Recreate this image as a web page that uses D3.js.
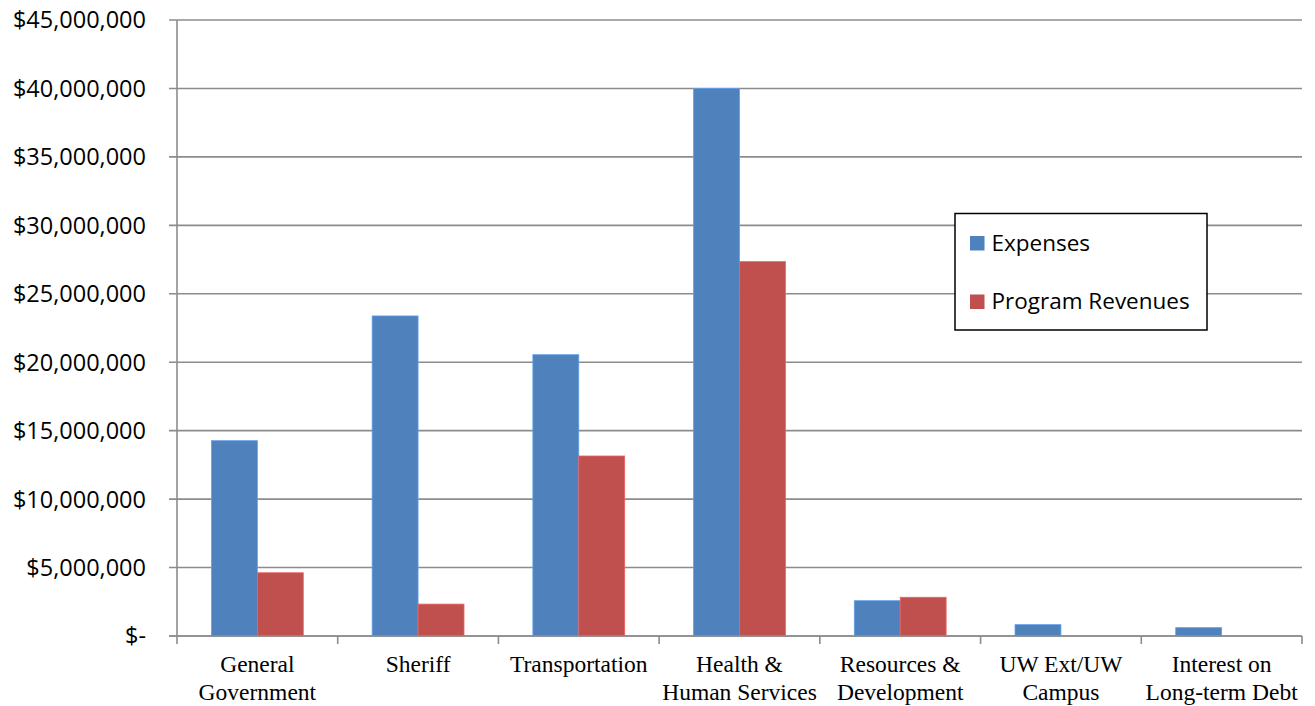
<!DOCTYPE html>
<html>
<head>
<meta charset="utf-8">
<script src="https://cdn.jsdelivr.net/npm/d3@7"></script>
<style>
  body { margin: 0; background: #fff; }
  svg { display: block; }
</style>
</head>
<body>
<svg id="chart"></svg>
<script>
// categories, each label split into its lines
const categories = [
  ['General', 'Government'],
  ['Sheriff'],
  ['Transportation'],
  ['Health &', 'Human Services'],
  ['Resources &', 'Development'],
  ['UW Ext/UW', 'Campus'],
  ['Interest on', 'Long-term Debt']
];

const seriesNames = ['Expenses', 'Program Revenues'];
const seriesColors = ['#4F81BD', '#C0504D'];

const expenses = [14270000, 23380000, 20550000, 40000000, 2580000, 830000, 610000];
const programRevenues = [4620000, 2330000, 13150000, 27350000, 2830000, 0, 0];

const yTicks = [0, 5000000, 10000000, 15000000, 20000000, 25000000, 30000000, 35000000, 40000000, 45000000];

const config = {
  w: 1315,
  h: 706,
  left: 177,
  right: 1302,
  top: 20,
  bottom: 636
};

function createVisualization({w, h, left, right, top, bottom}) {
  const keys = categories.map(c => c.join(' '));
  const values = [expenses, programRevenues];

  const svg = d3.select('#chart')
    .attr('width', w)
    .attr('height', h);

  const x = d3.scaleBand()
    .domain(keys)
    .range([left, right])
    .padding(0);

  // excel style gap width 150%
  const xInner = d3.scaleBand()
    .domain(seriesNames)
    .range([0, x.bandwidth()])
    .paddingInner(0)
    .paddingOuter(0.75);

  const y = d3.scaleLinear()
    .domain([0, 45000000])
    .range([bottom, top]);

  const grey = '#8c8c8c';

  // gridlines
  svg.append('g')
    .selectAll('line')
    .data(yTicks)
    .join('line')
    .attr('x1', left - 8)
    .attr('x2', right)
    .attr('y1', d => y(d))
    .attr('y2', d => y(d))
    .style('stroke', grey)
    .style('stroke-width', 1.6);

  // y labels
  const fmt = d3.format(',');
  svg.append('g')
    .style('font', '23.5px "Open Sans", "Liberation Sans", sans-serif')
    .style('fill', '#000')
    .selectAll('text')
    .data(yTicks)
    .join('text')
    .attr('x', 146)
    .attr('y', d => y(d))
    .attr('dy', '0.36em')
    .attr('text-anchor', 'end')
    .text(d => d === 0 ? '$-' : '$' + fmt(d));

  // bars
  const groups = svg.append('g')
    .selectAll('g')
    .data(keys)
    .join('g')
    .attr('transform', d => `translate(${x(d)},0)`);

  groups.selectAll('rect')
    .data((d, i) => seriesNames.map((s, j) => ({s, v: values[j][i], c: seriesColors[j]})))
    .join('rect')
    .attr('x', d => xInner(d.s))
    .attr('width', xInner.bandwidth())
    .attr('y', d => y(d.v))
    .attr('height', d => y(0) - y(d.v))
    .style('fill', d => d.c)
    .style('stroke', d => d3.color(d.c).brighter(0.6))
    .style('stroke-width', 0.8)
    .style('display', d => d.v > 0 ? null : 'none');

  // axes
  svg.append('line')
    .attr('x1', left).attr('x2', left)
    .attr('y1', top).attr('y2', bottom)
    .style('stroke', grey).style('stroke-width', 1.6);

  svg.append('line')
    .attr('x1', left - 8).attr('x2', right)
    .attr('y1', bottom).attr('y2', bottom)
    .style('stroke', grey).style('stroke-width', 1.6);

  // category tick marks
  const tickXs = keys.map(k => x(k)).concat([right]);
  svg.append('g')
    .selectAll('line')
    .data(tickXs)
    .join('line')
    .attr('x1', d => d).attr('x2', d => d)
    .attr('y1', bottom).attr('y2', bottom + 8)
    .style('stroke', grey).style('stroke-width', 1.6);

  // category labels
  const labels = svg.append('g')
    .style('font', '23.5px "Liberation Serif", "Times New Roman", serif')
    .style('fill', '#000')
    .selectAll('text')
    .data(categories)
    .join('text')
    .attr('text-anchor', 'middle')
    .attr('transform', (d, i) => `translate(${x(keys[i]) + x.bandwidth() / 2}, 672)`);

  labels.selectAll('tspan')
    .data(d => d)
    .join('tspan')
    .attr('x', 0)
    .attr('y', (d, i) => i * 27.5)
    .text(d => d);

  // legend
  const legend = svg.append('g');
  legend.append('rect')
    .attr('x', 955)
    .attr('y', 213.5)
    .attr('width', 252)
    .attr('height', 116.5)
    .style('fill', '#fff')
    .style('stroke', '#000')
    .style('stroke-width', 1.5);

  const items = legend.selectAll('g')
    .data(seriesNames)
    .join('g')
    .attr('transform', (d, i) => `translate(970, ${236 + i * 58.5})`);

  items.append('rect')
    .attr('width', 14.5)
    .attr('height', 14.5)
    .style('fill', (d, i) => seriesColors[i]);

  items.append('text')
    .attr('x', 21.5)
    .attr('y', 14.5)
    .style('font', '22.5px "Open Sans", "Liberation Sans", sans-serif')
    .text(d => d);
}

createVisualization(config);
</script>
</body>
</html>
